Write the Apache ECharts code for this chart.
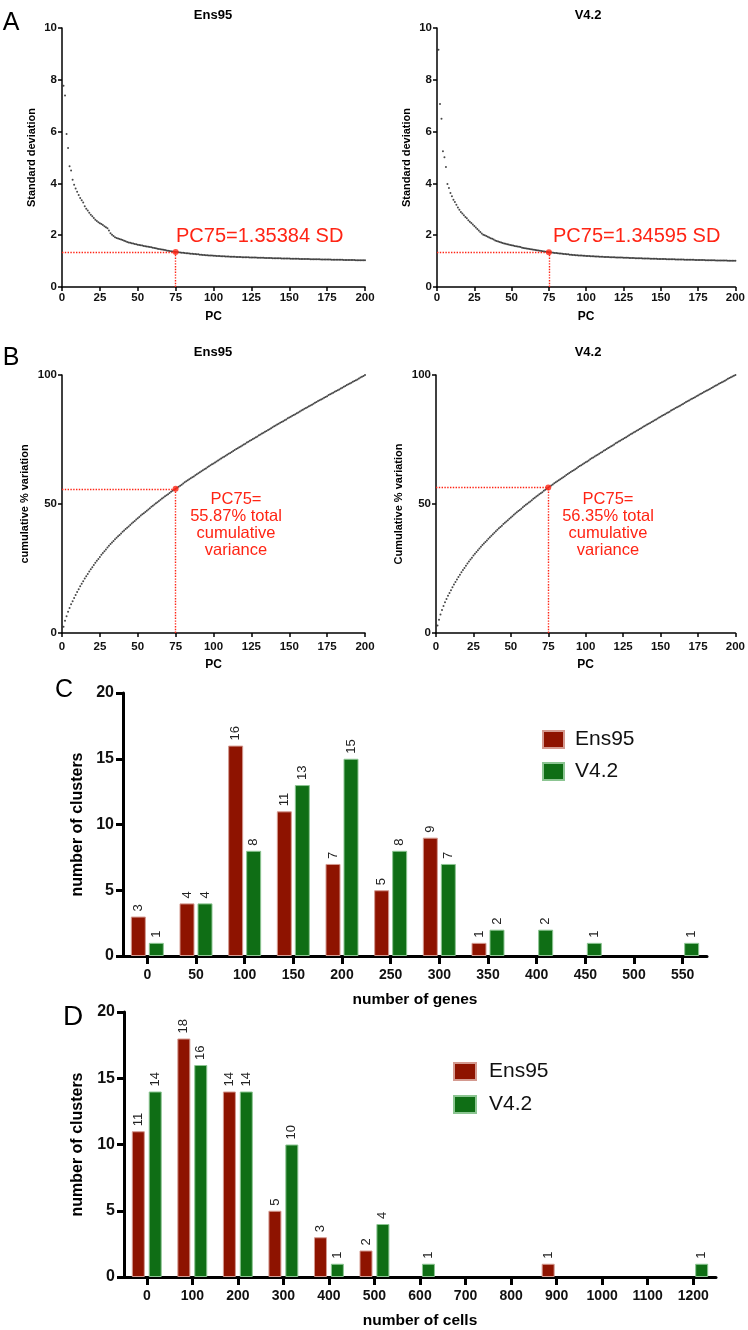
<!DOCTYPE html>
<html>
<head>
<meta charset="utf-8">
<script src="https://cdn.jsdelivr.net/npm/echarts@6/dist/echarts.min.js"></script>
<style>
html, body { margin: 0; padding: 0; background: #fff; }
#main { width: 748px; height: 1330px; }
</style>
</head>
<body>
<div id="main"></div>
<script>
// A: standard deviation per PC (PC1..PC200)
var sdEns95 = [
  7.77,7.39,5.91,5.37,4.66,4.50,4.14,3.95,3.80,3.68,
  3.55,3.44,3.35,3.26,3.12,3.02,2.95,2.87,2.79,2.73,
  2.66,2.60,2.55,2.50,2.46,2.43,2.39,2.35,2.31,2.27,
  2.18,2.08,2.02,1.97,1.92,1.89,1.87,1.85,1.83,1.81,
  1.79,1.77,1.74,1.72,1.71,1.69,1.68,1.66,1.65,1.63,
  1.62,1.61,1.60,1.58,1.57,1.56,1.55,1.54,1.53,1.52,
  1.51,1.50,1.48,1.47,1.46,1.45,1.44,1.43,1.41,1.40,
  1.39,1.38,1.37,1.36,1.35384,1.35,1.34,1.33,1.32,1.32,
  1.31,1.30,1.30,1.29,1.28,1.28,1.27,1.27,1.26,1.26,
  1.25,1.25,1.24,1.24,1.23,1.23,1.22,1.22,1.22,1.21,
  1.21,1.20,1.20,1.20,1.19,1.19,1.19,1.18,1.18,1.18,
  1.17,1.17,1.17,1.17,1.16,1.16,1.16,1.16,1.15,1.15,
  1.15,1.15,1.15,1.14,1.14,1.14,1.14,1.14,1.13,1.13,
  1.13,1.13,1.13,1.12,1.12,1.12,1.12,1.12,1.11,1.11,
  1.11,1.11,1.11,1.11,1.10,1.10,1.10,1.10,1.10,1.10,
  1.09,1.09,1.09,1.09,1.09,1.09,1.08,1.08,1.08,1.08,
  1.08,1.08,1.08,1.07,1.07,1.07,1.07,1.07,1.07,1.07,
  1.06,1.06,1.06,1.06,1.06,1.06,1.06,1.05,1.05,1.05,
  1.05,1.05,1.05,1.05,1.05,1.04,1.04,1.04,1.04,1.04,
  1.04,1.04,1.04,1.03,1.03,1.03,1.03,1.03,1.03,1.03
];
var sdV42 = [
  9.16,7.07,6.50,5.24,5.01,4.63,3.98,3.82,3.63,3.50,
  3.37,3.28,3.18,3.07,2.98,2.90,2.84,2.77,2.70,2.65,
  2.58,2.52,2.47,2.41,2.36,2.30,2.24,2.18,2.12,2.07,
  2.02,2.00,1.97,1.94,1.91,1.88,1.86,1.83,1.80,1.78,
  1.76,1.74,1.72,1.70,1.68,1.67,1.65,1.64,1.62,1.61,
  1.60,1.58,1.57,1.56,1.55,1.54,1.52,1.51,1.50,1.49,
  1.48,1.47,1.46,1.45,1.44,1.43,1.42,1.41,1.40,1.39,
  1.38,1.37,1.36,1.35,1.34595,1.34,1.33,1.32,1.31,1.31,
  1.30,1.29,1.29,1.28,1.27,1.27,1.26,1.26,1.25,1.25,
  1.24,1.24,1.23,1.23,1.22,1.22,1.22,1.21,1.21,1.20,
  1.20,1.20,1.19,1.19,1.19,1.18,1.18,1.18,1.17,1.17,
  1.17,1.16,1.16,1.16,1.16,1.15,1.15,1.15,1.15,1.14,
  1.14,1.14,1.14,1.14,1.13,1.13,1.13,1.13,1.12,1.12,
  1.12,1.12,1.11,1.11,1.11,1.11,1.11,1.10,1.10,1.10,
  1.10,1.10,1.09,1.09,1.09,1.09,1.09,1.08,1.08,1.08,
  1.08,1.08,1.08,1.07,1.07,1.07,1.07,1.07,1.07,1.06,
  1.06,1.06,1.06,1.06,1.06,1.05,1.05,1.05,1.05,1.05,
  1.05,1.05,1.04,1.04,1.04,1.04,1.04,1.04,1.04,1.03,
  1.03,1.03,1.03,1.03,1.03,1.03,1.02,1.02,1.02,1.02,
  1.02,1.02,1.02,1.02,1.01,1.01,1.01,1.01,1.01,1.01
];
// B: cumulative % variation per PC
var cumEns95 = [
  2.4,4.7,6.5,8.2,9.7,11.1,12.3,13.6,14.7,15.9,
  17.0,18.1,19.1,20.1,21.1,22.0,22.9,23.8,24.7,25.5,
  26.4,27.2,28.0,28.7,29.5,30.3,31.0,31.7,32.4,33.1,
  33.8,34.5,35.1,35.7,36.3,36.9,37.5,38.0,38.6,39.2,
  39.7,40.3,40.8,41.3,41.9,42.4,42.9,43.4,44.0,44.5,
  45.0,45.5,46.0,46.4,46.9,47.4,47.9,48.4,48.9,49.3,
  49.8,50.3,50.7,51.2,51.6,52.1,52.5,53.0,53.4,53.8,
  54.3,54.7,55.1,55.5,55.87,56.3,56.7,57.1,57.5,57.9,
  58.4,58.8,59.2,59.6,60.0,60.4,60.7,61.1,61.5,61.9,
  62.3,62.7,63.1,63.5,63.8,64.2,64.6,65.0,65.4,65.7,
  66.1,66.5,66.9,67.2,67.6,68.0,68.3,68.7,69.1,69.5,
  69.8,70.2,70.5,70.9,71.3,71.6,72.0,72.3,72.7,73.1,
  73.4,73.8,74.1,74.5,74.8,75.2,75.5,75.9,76.2,76.6,
  76.9,77.3,77.6,78.0,78.3,78.7,79.0,79.4,79.7,80.1,
  80.4,80.8,81.1,81.5,81.8,82.1,82.5,82.8,83.2,83.5,
  83.8,84.2,84.5,84.8,85.2,85.5,85.9,86.2,86.5,86.9,
  87.2,87.5,87.9,88.2,88.5,88.9,89.2,89.5,89.9,90.2,
  90.5,90.8,91.2,91.5,91.8,92.2,92.5,92.8,93.1,93.5,
  93.8,94.1,94.4,94.8,95.1,95.4,95.7,96.1,96.4,96.7,
  97.0,97.4,97.7,98.0,98.3,98.6,99.0,99.3,99.6,100
];
var cumV42 = [
  2.9,5.1,7.2,8.9,10.5,11.9,13.2,14.4,15.5,16.6,
  17.7,18.8,19.8,20.7,21.7,22.6,23.5,24.4,25.2,26.1,
  26.9,27.7,28.5,29.2,30.0,30.7,31.4,32.1,32.8,33.4,
  34.1,34.7,35.3,35.9,36.5,37.1,37.7,38.3,38.9,39.4,
  40.0,40.6,41.1,41.6,42.2,42.7,43.2,43.7,44.3,44.8,
  45.3,45.8,46.3,46.8,47.3,47.7,48.2,48.7,49.2,49.7,
  50.1,50.6,51.0,51.5,52.0,52.4,52.9,53.3,53.8,54.2,
  54.6,55.1,55.5,55.9,56.35,56.8,57.2,57.6,58.0,58.4,
  58.8,59.2,59.6,60.0,60.4,60.8,61.2,61.6,62.0,62.4,
  62.8,63.1,63.5,63.9,64.3,64.7,65.0,65.4,65.8,66.2,
  66.5,66.9,67.3,67.7,68.0,68.4,68.8,69.1,69.5,69.9,
  70.2,70.6,70.9,71.3,71.7,72.0,72.4,72.7,73.1,73.5,
  73.8,74.2,74.5,74.9,75.2,75.6,75.9,76.3,76.6,77.0,
  77.3,77.7,78.0,78.4,78.7,79.1,79.4,79.7,80.1,80.4,
  80.8,81.1,81.4,81.8,82.1,82.5,82.8,83.1,83.5,83.8,
  84.2,84.5,84.8,85.2,85.5,85.8,86.2,86.5,86.8,87.2,
  87.5,87.8,88.1,88.5,88.8,89.1,89.5,89.8,90.1,90.5,
  90.8,91.1,91.4,91.8,92.1,92.4,92.7,93.0,93.4,93.7,
  94.0,94.3,94.6,95.0,95.3,95.6,95.9,96.2,96.6,96.9,
  97.2,97.5,97.8,98.2,98.5,98.8,99.1,99.4,99.7,100
];
var markPC = 75;

// C: number of clusters by number of genes
var geneBins = ['0','50','100','150','200','250','300','350','400','450','500','550'];
var geneEns95 = [3,4,16,11,7,5,9,1,0,0,0,0];
var geneV42 = [1,4,8,13,15,8,7,2,2,1,0,1];

// D: number of clusters by number of cells
var cellBins = ['0','100','200','300','400','500','600','700','800','900','1000','1100','1200'];
var cellEns95 = [11,18,14,5,3,2,0,0,0,1,0,0,0];
var cellV42 = [14,16,14,10,1,4,1,0,0,0,0,0,1];

var FONT = '"Liberation Sans", Arial, Helvetica, sans-serif';
var RED = '#8e1300', GREEN = '#0f6e15', MARK = '#ff2414';

function pts(arr) {
    return arr.map(function (v, i) { return [i + 1, v]; });
}
// 0 means no bar
function bars(arr) {
    return arr.map(function (v) { return v === 0 ? null : v; });
}

function pcAxis(grid, labelMargin, nameGap) {
    return {
        type: 'value', gridIndex: grid, min: 0, max: 200, interval: 25,
        name: 'PC', nameLocation: 'middle', nameGap: nameGap,
        nameTextStyle: { fontFamily: FONT, fontWeight: 'bold', fontSize: 12, color: '#000' },
        axisLine: { show: true, onZero: false, lineStyle: { color: '#000', width: 1.5 } },
        axisTick: { show: true, length: 4, lineStyle: { color: '#000', width: 1.5 } },
        axisLabel: { fontFamily: FONT, fontWeight: 'bold', fontSize: 11.5, color: '#111', margin: labelMargin },
        splitLine: { show: false }
    };
}
function valAxis(grid, max, interval, name, nameGap) {
    return {
        type: 'value', gridIndex: grid, min: 0, max: max, interval: interval,
        name: name, nameLocation: 'middle', nameGap: nameGap, nameRotate: 90,
        nameTextStyle: { fontFamily: FONT, fontWeight: 'bold', fontSize: 11, color: '#000' },
        axisLine: { show: true, onZero: false, lineStyle: { color: '#000', width: 1.5 } },
        axisTick: { show: true, length: 4, lineStyle: { color: '#000', width: 1.5 } },
        axisLabel: { fontFamily: FONT, fontWeight: 'bold', fontSize: 11.5, color: '#111', margin: 5 },
        splitLine: { show: false }
    };
}
function catAxis(grid, data, name) {
    return {
        type: 'category', gridIndex: grid, data: data,
        name: name, nameLocation: 'middle', nameGap: 36,
        nameTextStyle: { fontFamily: FONT, fontWeight: 'bold', fontSize: 15.5, color: '#000' },
        axisLine: { show: true, lineStyle: { color: '#000', width: 3 } },
        axisTick: { show: true, alignWithLabel: true, interval: 0, length: 8, lineStyle: { color: '#000', width: 3 } },
        axisLabel: { interval: 0, fontFamily: FONT, fontWeight: 'bold', fontSize: 14, color: '#111', margin: 12 },
        splitLine: { show: false }
    };
}
function countAxis(grid, nameGap) {
    return {
        type: 'value', gridIndex: grid, min: 0, max: 20, interval: 5,
        name: 'number of clusters', nameLocation: 'middle', nameGap: nameGap, nameRotate: 90,
        nameTextStyle: { fontFamily: FONT, fontWeight: 'bold', fontSize: 16, color: '#000' },
        axisLine: { show: true, lineStyle: { color: '#000', width: 3 } },
        axisTick: { show: true, length: 7, lineStyle: { color: '#000', width: 3 } },
        axisLabel: { fontFamily: FONT, fontWeight: 'bold', fontSize: 16, color: '#111', margin: 9 },
        splitLine: { show: false }
    };
}

function dots(grid, arr) {
    return {
        type: 'scatter', xAxisIndex: grid, yAxisIndex: grid,
        data: pts(arr), symbolSize: 2, itemStyle: { color: '#1a1a1a' }, silent: true,
        markLine: {
            silent: true, symbol: 'none', label: { show: false },
            lineStyle: { color: MARK, type: 'dotted', width: 1.4 },
            data: [
                [{ coord: [0, arr[markPC - 1]] }, { coord: [markPC, arr[markPC - 1]] }],
                [{ coord: [markPC, 0] }, { coord: [markPC, arr[markPC - 1]] }]
            ]
        }
    };
}
function markDot(grid, arr) {
    return {
        type: 'scatter', xAxisIndex: grid, yAxisIndex: grid, z: 5,
        data: [[markPC, arr[markPC - 1]]], symbolSize: 6, itemStyle: { color: MARK }, silent: true
    };
}
function barSeries(grid, name, arr, color, border, width, gap) {
    return {
        type: 'bar', name: name, xAxisIndex: grid, yAxisIndex: grid,
        data: bars(arr), barWidth: width, barGap: gap,
        itemStyle: { color: color, borderColor: border, borderWidth: 1 },
        label: {
            show: true, position: 'top', rotate: 90, align: 'left', verticalAlign: 'middle',
            distance: 5, fontFamily: FONT, fontSize: 13, color: '#222'
        }
    };
}
function txt(x, y, s, size, opts) {
    opts = opts || {};
    return {
        type: 'text', x: x, y: y, silent: true,
        style: {
            text: s, fill: opts.color || '#000',
            font: (opts.bold ? 'bold ' : '') + size + 'px ' + FONT,
            align: opts.align || 'center', textAlign: opts.align || 'center',
            verticalAlign: 'middle', textVerticalAlign: 'middle',
            lineHeight: opts.lineHeight || size
        }
    };
}

var myChart = echarts.init(document.getElementById('main'));
var option = {
    animation: false,
    backgroundColor: '#fff',
    grid: [
        { left: 62, top: 28, width: 303, height: 259 },
        { left: 437, top: 28, width: 303, height: 259 },
        { left: 62, top: 375, width: 303, height: 258 },
        { left: 436, top: 375, width: 304, height: 258 },
        { left: 123, top: 693, width: 584, height: 263 },
        { left: 124, top: 1012, width: 592, height: 266 }
    ],
    xAxis: [
        pcAxis(0, 5, 24), pcAxis(1, 5, 24),
        pcAxis(2, 8, 26), pcAxis(3, 8, 26),
        catAxis(4, geneBins, 'number of genes'),
        catAxis(5, cellBins, 'number of cells')
    ],
    yAxis: [
        valAxis(0, 10, 2, 'Standard deviation', 25),
        valAxis(1, 10, 2, 'Standard deviation', 25),
        valAxis(2, 100, 50, 'cumulative % variation', 32),
        valAxis(3, 100, 50, 'Cumulative % variation', 32),
        countAxis(4, 36),
        countAxis(5, 38)
    ],
    legend: [
        {
            data: ['Ens95', 'V4.2'], orient: 'vertical', left: 537, top: 724,
            icon: 'rect', itemWidth: 21, itemHeight: 17, itemGap: 11,
            textStyle: { fontFamily: FONT, fontSize: 21, color: '#111', padding: [0, 0, 0, 6] }
        },
        {
            data: ['Ens95', 'V4.2'], orient: 'vertical', left: 448, top: 1056,
            icon: 'rect', itemWidth: 22, itemHeight: 17, itemGap: 12,
            textStyle: { fontFamily: FONT, fontSize: 21, color: '#111', padding: [0, 0, 0, 8] }
        }
    ],
    series: [
        dots(0, sdEns95), markDot(0, sdEns95),
        dots(1, sdV42), markDot(1, sdV42),
        dots(2, cumEns95), markDot(2, cumEns95),
        dots(3, cumV42), markDot(3, cumV42),
        barSeries(4, 'Ens95', geneEns95, RED, '#d49a90', 15, '20%'),
        barSeries(4, 'V4.2', geneV42, GREEN, '#8cc592', 15, '20%'),
        barSeries(5, 'Ens95', cellEns95, RED, '#d49a90', 13, '30%'),
        barSeries(5, 'V4.2', cellV42, GREEN, '#8cc592', 13, '30%')
    ],
    graphic: [
        txt(11, 23, 'A', 25),
        txt(11, 358, 'B', 25),
        txt(64, 690, 'C', 25),
        txt(73, 1017, 'D', 28),
        txt(213, 15, 'Ens95', 13, { bold: true }),
        txt(588, 15, 'V4.2', 13, { bold: true }),
        txt(213, 352, 'Ens95', 13, { bold: true }),
        txt(588, 352, 'V4.2', 13, { bold: true }),
        txt(176, 236, 'PC75=1.35384 SD', 20, { color: MARK, align: 'left' }),
        txt(553, 236, 'PC75=1.34595 SD', 20, { color: MARK, align: 'left' }),
        txt(236, 525, 'PC75=\n55.87% total\ncumulative\nvariance', 16.5, { color: MARK, lineHeight: 16.7 }),
        txt(608, 525, 'PC75=\n56.35% total\ncumulative\nvariance', 16.5, { color: MARK, lineHeight: 16.7 })
    ]
};
myChart.setOption(option);
</script>
</body>
</html>
